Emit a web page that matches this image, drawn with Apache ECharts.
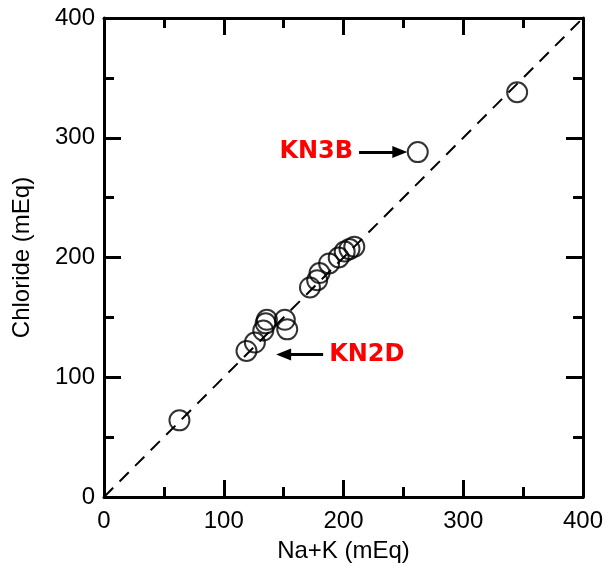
<!DOCTYPE html>
<html>
<head>
<meta charset="utf-8">
<script src="https://cdn.jsdelivr.net/npm/echarts@6/dist/echarts.min.js"></script>
<style>html,body{margin:0;padding:0;background:#fff}#c{width:608px;height:573px}</style>
</head>
<body>
<div id="c"></div>
<script>
// Data
const naK      = [63, 119, 126, 133, 135, 136, 151, 153, 172, 178, 180, 188, 196, 201, 205, 209, 262, 345];
const chloride = [64, 122, 129, 139, 145, 148, 148, 140, 175, 181, 187, 195, 200, 205, 207, 209, 288, 338];
const oneToOne = [[0, 0], [400, 400]];
const xTicks = [0, 100, 200, 300, 400];
const yTicks = [0, 100, 200, 300, 400];
const annKN3B = { text: 'KN3B', from: [213, 288], to: [247, 288] };
const annKN2D = { text: 'KN2D', from: [183, 119], to: [150, 119] };

const chart = echarts.init(document.getElementById('c'), null, { renderer: 'canvas' });
const FONT = '"Liberation Sans", Arial, sans-serif';
const lineStyle = { color: '#000', width: 3 };
const tick = { show: true, inside: true, length: 17, lineStyle: { color: '#000', width: 3 } };
const minorTick = { show: true, splitNumber: 2, length: 10, lineStyle: { color: '#000', width: 3 } };

function axisBase(extra) {
  return Object.assign({
    type: 'value', min: 0, max: 400, interval: 100,
    axisLine: { show: true, onZero: false, lineStyle },
    axisTick: tick, minorTick: minorTick,
    splitLine: { show: false }, minorSplitLine: { show: false }
  }, extra);
}

function annotation(a) {
  return [{ coord: a.from, name: a.text }, { coord: a.to }];
}

chart.setOption({
  animation: false,
  backgroundColor: '#fff',
  grid: { left: 104, right: 25, top: 18, bottom: 76 },
  xAxis: [
    axisBase({
      position: 'bottom',
      name: 'Na+K (mEq)', nameLocation: 'middle', nameGap: 42,
      nameTextStyle: { fontFamily: FONT, fontSize: 24, color: '#000' },
      axisLabel: { show: true, margin: 12, fontFamily: FONT, fontSize: 24, color: '#000',
        formatter: v => xTicks.includes(v) ? String(v) : '' }
    }),
    axisBase({ position: 'top', axisLabel: { show: false } })
  ],
  yAxis: [
    axisBase({
      position: 'left',
      name: 'Chloride (mEq)', nameLocation: 'middle', nameGap: 70, nameRotate: 90,
      nameTextStyle: { fontFamily: FONT, fontSize: 24, color: '#000' },
      axisLabel: { show: true, margin: 9, fontFamily: FONT, fontSize: 24, color: '#000',
        formatter: v => yTicks.includes(v) ? String(v) : '' }
    }),
    axisBase({ position: 'right', axisLabel: { show: false } })
  ],
  series: [
    {
      type: 'line', data: oneToOne, symbol: 'none', silent: true,
      lineStyle: { color: '#000', width: 2, type: [13, 9] }, z: 1
    },
    {
      type: 'scatter',
      data: naK.map((x, i) => [x, chloride[i]]),
      symbol: 'circle', symbolSize: 20,
      itemStyle: { color: 'rgba(0,0,0,0)', borderColor: '#000', borderWidth: 2 },
      z: 3,
      markLine: {
        silent: true, animation: false,
        symbol: ['none', 'triangle'], symbolSize: [12, 15],
        lineStyle: { color: '#000', width: 3, type: 'solid' },
        label: {
          show: true, position: 'start', distance: 6,
          formatter: p => p.name,
          color: '#ff0000', fontFamily: '"DejaVu Sans", Verdana, sans-serif',
          fontWeight: 'bold', fontSize: 24
        },
        data: [annotation(annKN3B), annotation(annKN2D)]
      }
    }
  ]
});
</script>
</body>
</html>
